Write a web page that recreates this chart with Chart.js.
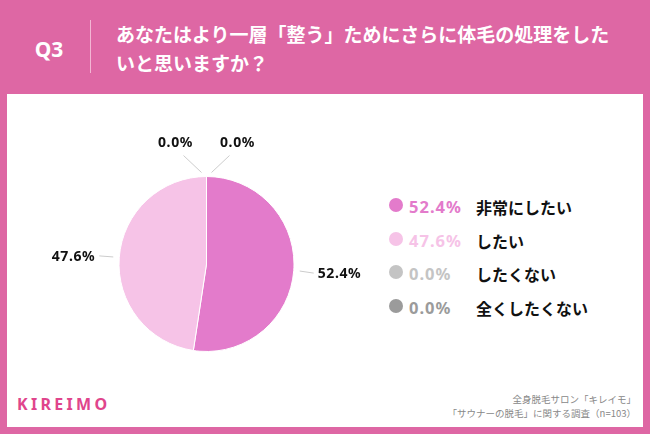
<!DOCTYPE html>
<html><head><meta charset="utf-8">
<script src="https://cdn.jsdelivr.net/npm/chart.js@4"></script>
<style>
html,body{margin:0;padding:0;}
body{width:650px;height:434px;background:#DE67A4;position:relative;overflow:hidden;font-family:"Noto Sans CJK JP","Noto Sans",sans-serif;}
#panel{position:absolute;left:7px;top:94px;width:636px;height:333px;background:#fff;}
#q{position:absolute;left:27px;top:34px;width:44px;text-align:center;color:#fff;font:bold 21px "Noto Sans","Noto Sans CJK JP",sans-serif;line-height:30px;}
#vline{position:absolute;left:90px;top:20px;width:1px;height:53px;background:#F3B6D4;}
#title{position:absolute;left:116px;top:19px;color:#fff;font:bold 19px "Noto Sans CJK JP",sans-serif;line-height:29px;letter-spacing:0px;white-space:nowrap;}
#c{position:absolute;left:0;top:0;}
.leg{position:absolute;left:389px;height:20px;line-height:20px;white-space:nowrap;}
.dot{position:absolute;left:0;top:3px;width:14px;height:14px;border-radius:50%;}
.pct{position:absolute;left:20px;top:0;font:bold 16.5px "Noto Sans","Noto Sans CJK JP",sans-serif;letter-spacing:1px;}
.lab{position:absolute;left:87px;top:0;font:bold 16px "Noto Sans CJK JP",sans-serif;color:#111;}
#logo{position:absolute;left:17px;top:393px;color:#E0458C;font:bold 16px "Noto Sans",sans-serif;letter-spacing:3.3px;}
.src{position:absolute;right:14px;color:#888;font:9.5px "Noto Sans CJK JP",sans-serif;white-space:nowrap;}
</style></head>
<body>
<div id="panel"></div>
<div id="q">Q3</div>
<div id="vline"></div>
<div id="title">あなたはより一層「整う」ためにさらに体毛の処理をした<br>いと思いますか？</div>
<div id="legend"></div>
<div id="logo">KIREIMO</div>
<div class="src" style="top:392px">全身脱毛サロン「キレイモ」</div>
<div class="src" style="top:406px">「サウナーの脱毛」に関する調査（n=103）</div>
<canvas id="c" width="650" height="434"></canvas>
<script>
const categories = ["非常にしたい","したい","したくない","全くしたくない"];
const values = [52.4, 47.6, 0.0, 0.0];
const colors = ["#E37BCB","#F6C3E7","#C4C4C4","#9B9B9B"];

// legend
const legend = document.getElementById('legend');
const rowsY = [195, 229, 262, 296];
categories.forEach((c,i)=>{
  const d = document.createElement('div');
  d.className='leg'; d.style.top=rowsY[i]+'px';
  d.innerHTML = `<div class="dot" style="background:${colors[i]}"></div><div class="pct" style="color:${colors[i]}">${values[i].toFixed(1)}%</div><div class="lab">${c}</div>`;
  legend.appendChild(d);
});

const labelPlugin = {
  id:'pieLabels',
  afterDraw(chart){
    const ctx = chart.ctx;
    const meta = chart.getDatasetMeta(0);
    ctx.save();
    ctx.font = 'bold 14px "Noto Sans","Noto Sans CJK JP",sans-serif';
    if ('letterSpacing' in ctx) ctx.letterSpacing = '0.6px';
    ctx.fillStyle = '#111';
    ctx.textBaseline = 'middle';
    let zeroIdx = 0;
    meta.data.forEach((arc,i)=>{
      const p = arc.getProps(['x','y','startAngle','endAngle','outerRadius'],true);
      const txt = values[i].toFixed(1)+'%';
      const a = (p.startAngle+p.endAngle)/2;
      ctx.strokeStyle = '#CCCCCC'; ctx.lineWidth = 1;
      if (values[i] === 0) {
        const side = zeroIdx++ === 0 ? -1 : 1;
        const tx = p.x + Math.cos(a)*p.outerRadius, ty = p.y + Math.sin(a)*p.outerRadius;
        ctx.beginPath();
        ctx.moveTo(tx + side*5, ty - 4);
        ctx.lineTo(tx + side*23, ty - 21);
        ctx.stroke();
        ctx.textAlign = 'center';
        ctx.fillText(txt, tx + side*31, ty - 33);
      } else {
        const r1 = p.outerRadius+6, r2 = p.outerRadius+20, r3 = p.outerRadius+24;
        const c = Math.cos(a), s = Math.sin(a);
        ctx.beginPath();
        ctx.moveTo(p.x+c*r1, p.y+s*r1);
        ctx.lineTo(p.x+c*r2, p.y+s*r2+ (c>0?1:0));
        ctx.stroke();
        ctx.textAlign = c>0 ? 'left' : 'right';
        ctx.fillText(txt, p.x+c*r3, p.y+s*r2+1.5);
      }
    });
    ctx.restore();
  }
};

new Chart(document.getElementById('c'), {
  type:'pie',
  data:{labels:categories, datasets:[{data:values, backgroundColor:colors, borderColor:'#ffffff', borderWidth:1}]},
  options:{
    responsive:false, animation:false,
    layout:{padding:{left:118.5, right:355.5, top:176, bottom:82}},
    plugins:{legend:{display:false}, tooltip:{enabled:false}}
  },
  plugins:[labelPlugin]
});
</script>
</body></html>
